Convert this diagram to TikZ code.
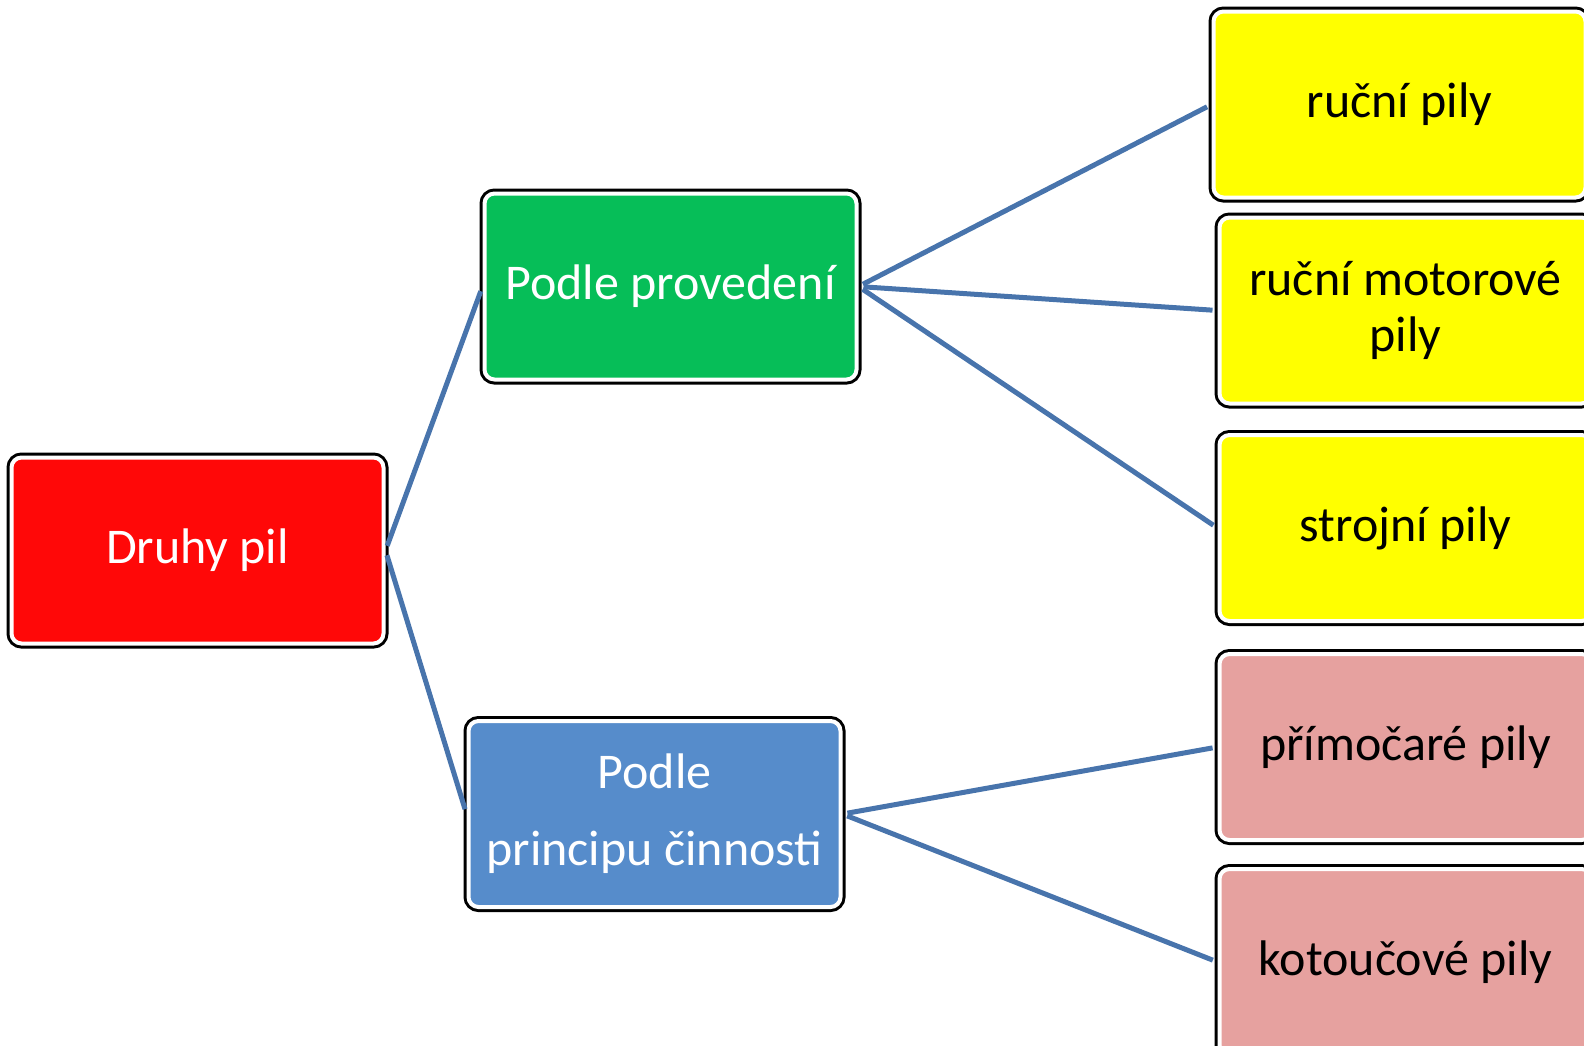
\documentclass[tikz,border=0pt]{standalone}
\usepackage{fontspec}
\setmainfont{Carlito}
\usetikzlibrary{positioning}
\definecolor{boxred}{HTML}{FF0808}
\definecolor{boxgreen}{HTML}{06BE58}
\definecolor{boxblue}{HTML}{568CCB}
\definecolor{boxyellow}{HTML}{FFFF00}
\definecolor{boxpink}{HTML}{E6A19F}
\definecolor{linkblue}{HTML}{4874AC}
\begin{document}
\begin{tikzpicture}[x=0.5pt, y=-0.5pt]
\tikzstyle{main}=[rectangle, rounded corners=5pt, minimum width=186pt, minimum height=93pt, draw=white, line width=2pt, preaction={draw=black, line width=5pt}, align=center, font=\fontsize{25}{28}\selectfont, node distance=14.5pt]
\tikzstyle{connect}=[draw=linkblue, line width=2.5pt, shorten <=2.5pt, shorten >=2.5pt]
\useasboundingbox (0,0) rectangle (1584,1045);
\node[main, fill=boxred, text=white] (druhy) at (197.5,550.5) {Druhy pil};
\node[main, fill=boxgreen, text=white] (prov) [right=48.5pt of druhy, yshift=132pt] {Podle provedení};
\node[main, fill=boxblue, text=white] (princ) [right=40.5pt of druhy, yshift=-131.75pt] {Podle\\[10.5pt]principu činnosti};
\node[main, fill=boxyellow] (rucni) [right=176.5pt of prov, yshift=91pt] {ruční pily};
\node[main, fill=boxyellow] (motor) [right=179.5pt of prov, yshift=-12pt] {ruční motorové\\pily};
\node[main, fill=boxyellow] (stroj) [below=13.75pt of motor] {strojní pily};
\node[main, fill=boxpink] (primo) [below=of stroj] {přímočaré pily};
\node[main, fill=boxpink] (kotouc) [below=12.5pt of primo] {kotoučové pily};
\path
    (druhy.east) edge [connect] (prov.west)
    (druhy.east) edge [connect] (princ.west)
      (prov.east) edge [connect] (rucni.west)
      (prov.east) edge [connect] (motor.west)
      (prov.east) edge [connect] (stroj.west)
      (princ.east) edge [connect] (primo.west)
      (princ.east) edge [connect] (kotouc.west)
;
\end{tikzpicture}
\end{document}
